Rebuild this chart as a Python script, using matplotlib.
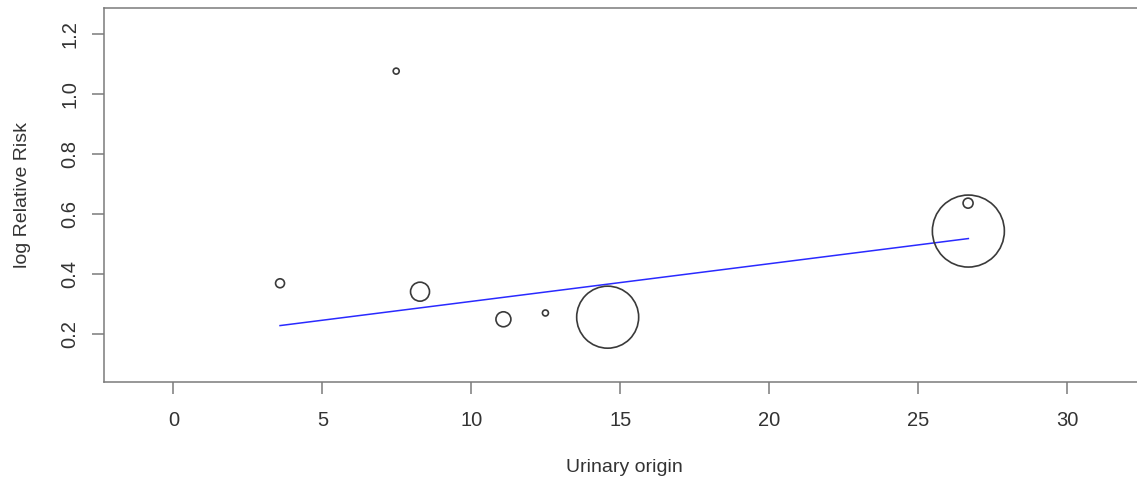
import numpy as np
import matplotlib
matplotlib.use("Agg")
import matplotlib.pyplot as plt

plt.rcParams['font.family'] = ['Liberation Sans', 'DejaVu Sans']

# study-level data
urinary_origin = [3.58, 7.48, 8.28, 11.08, 12.49, 14.58, 26.69, 26.68]
log_rr = [0.370, 1.077, 0.342, 0.250, 0.271, 0.257, 0.544, 0.637]
# relative study weights (bubble area)
study_weight = [20, 9, 90, 56, 9, 961, 1296, 25]

# meta-regression fit line (endpoints at min / max x)
fit_x = [3.58, 26.69]
fit_y = [0.229, 0.519]

x_ticks = [0, 5, 10, 15, 20, 25, 30]
y_ticks = [0.2, 0.4, 0.6, 0.8, 1.0, 1.2]

dpi = 100
fig = plt.figure(figsize=(11.37, 4.84), dpi=dpi)
ax = fig.add_axes([104 / 1137, 1 - 382.3 / 484, 1041 / 1137, 374.8 / 484])

# bubble radius in px = sqrt(weight); convert to points for scatter
px_to_pt = 72 / dpi
sizes = [(2 * np.sqrt(w) * px_to_pt) ** 2 for w in study_weight]
ax.scatter(urinary_origin, log_rr, s=sizes, facecolors='none',
           edgecolors='#3a3a3a', linewidths=1.2, zorder=3)

ax.plot(fit_x, fit_y, color='#2a2aff', lw=1.1, zorder=2)

ax.set_xlim(-2.33, 32.62)
ax.set_ylim(0.04, 1.289)
ax.set_xticks(x_ticks)
ax.set_yticks(y_ticks)
ax.set_xticklabels([str(t) for t in x_ticks])
ax.set_yticklabels([f"{t:.1f}" for t in y_ticks], rotation=90, va='center')

for side in ['left', 'bottom', 'top']:
    ax.spines[side].set_color('#7a7a7a')
    ax.spines[side].set_linewidth(1.1)
ax.spines['right'].set_visible(False)

ax.tick_params(axis='both', direction='out', length=8.6, width=1.1,
               color='#7a7a7a', labelcolor='#333333', labelsize=14.5)
ax.tick_params(axis='x', pad=12)
ax.tick_params(axis='y', pad=9)

ax.set_xlabel('Urinary origin', fontsize=14, color='#333333', labelpad=21)
fig.text(23 / 1137, 1 - 195 / 484, 'log Relative Risk', rotation=90,
         ha='center', va='center', fontsize=14, color='#333333')

fig.savefig('out.png', dpi=dpi)
